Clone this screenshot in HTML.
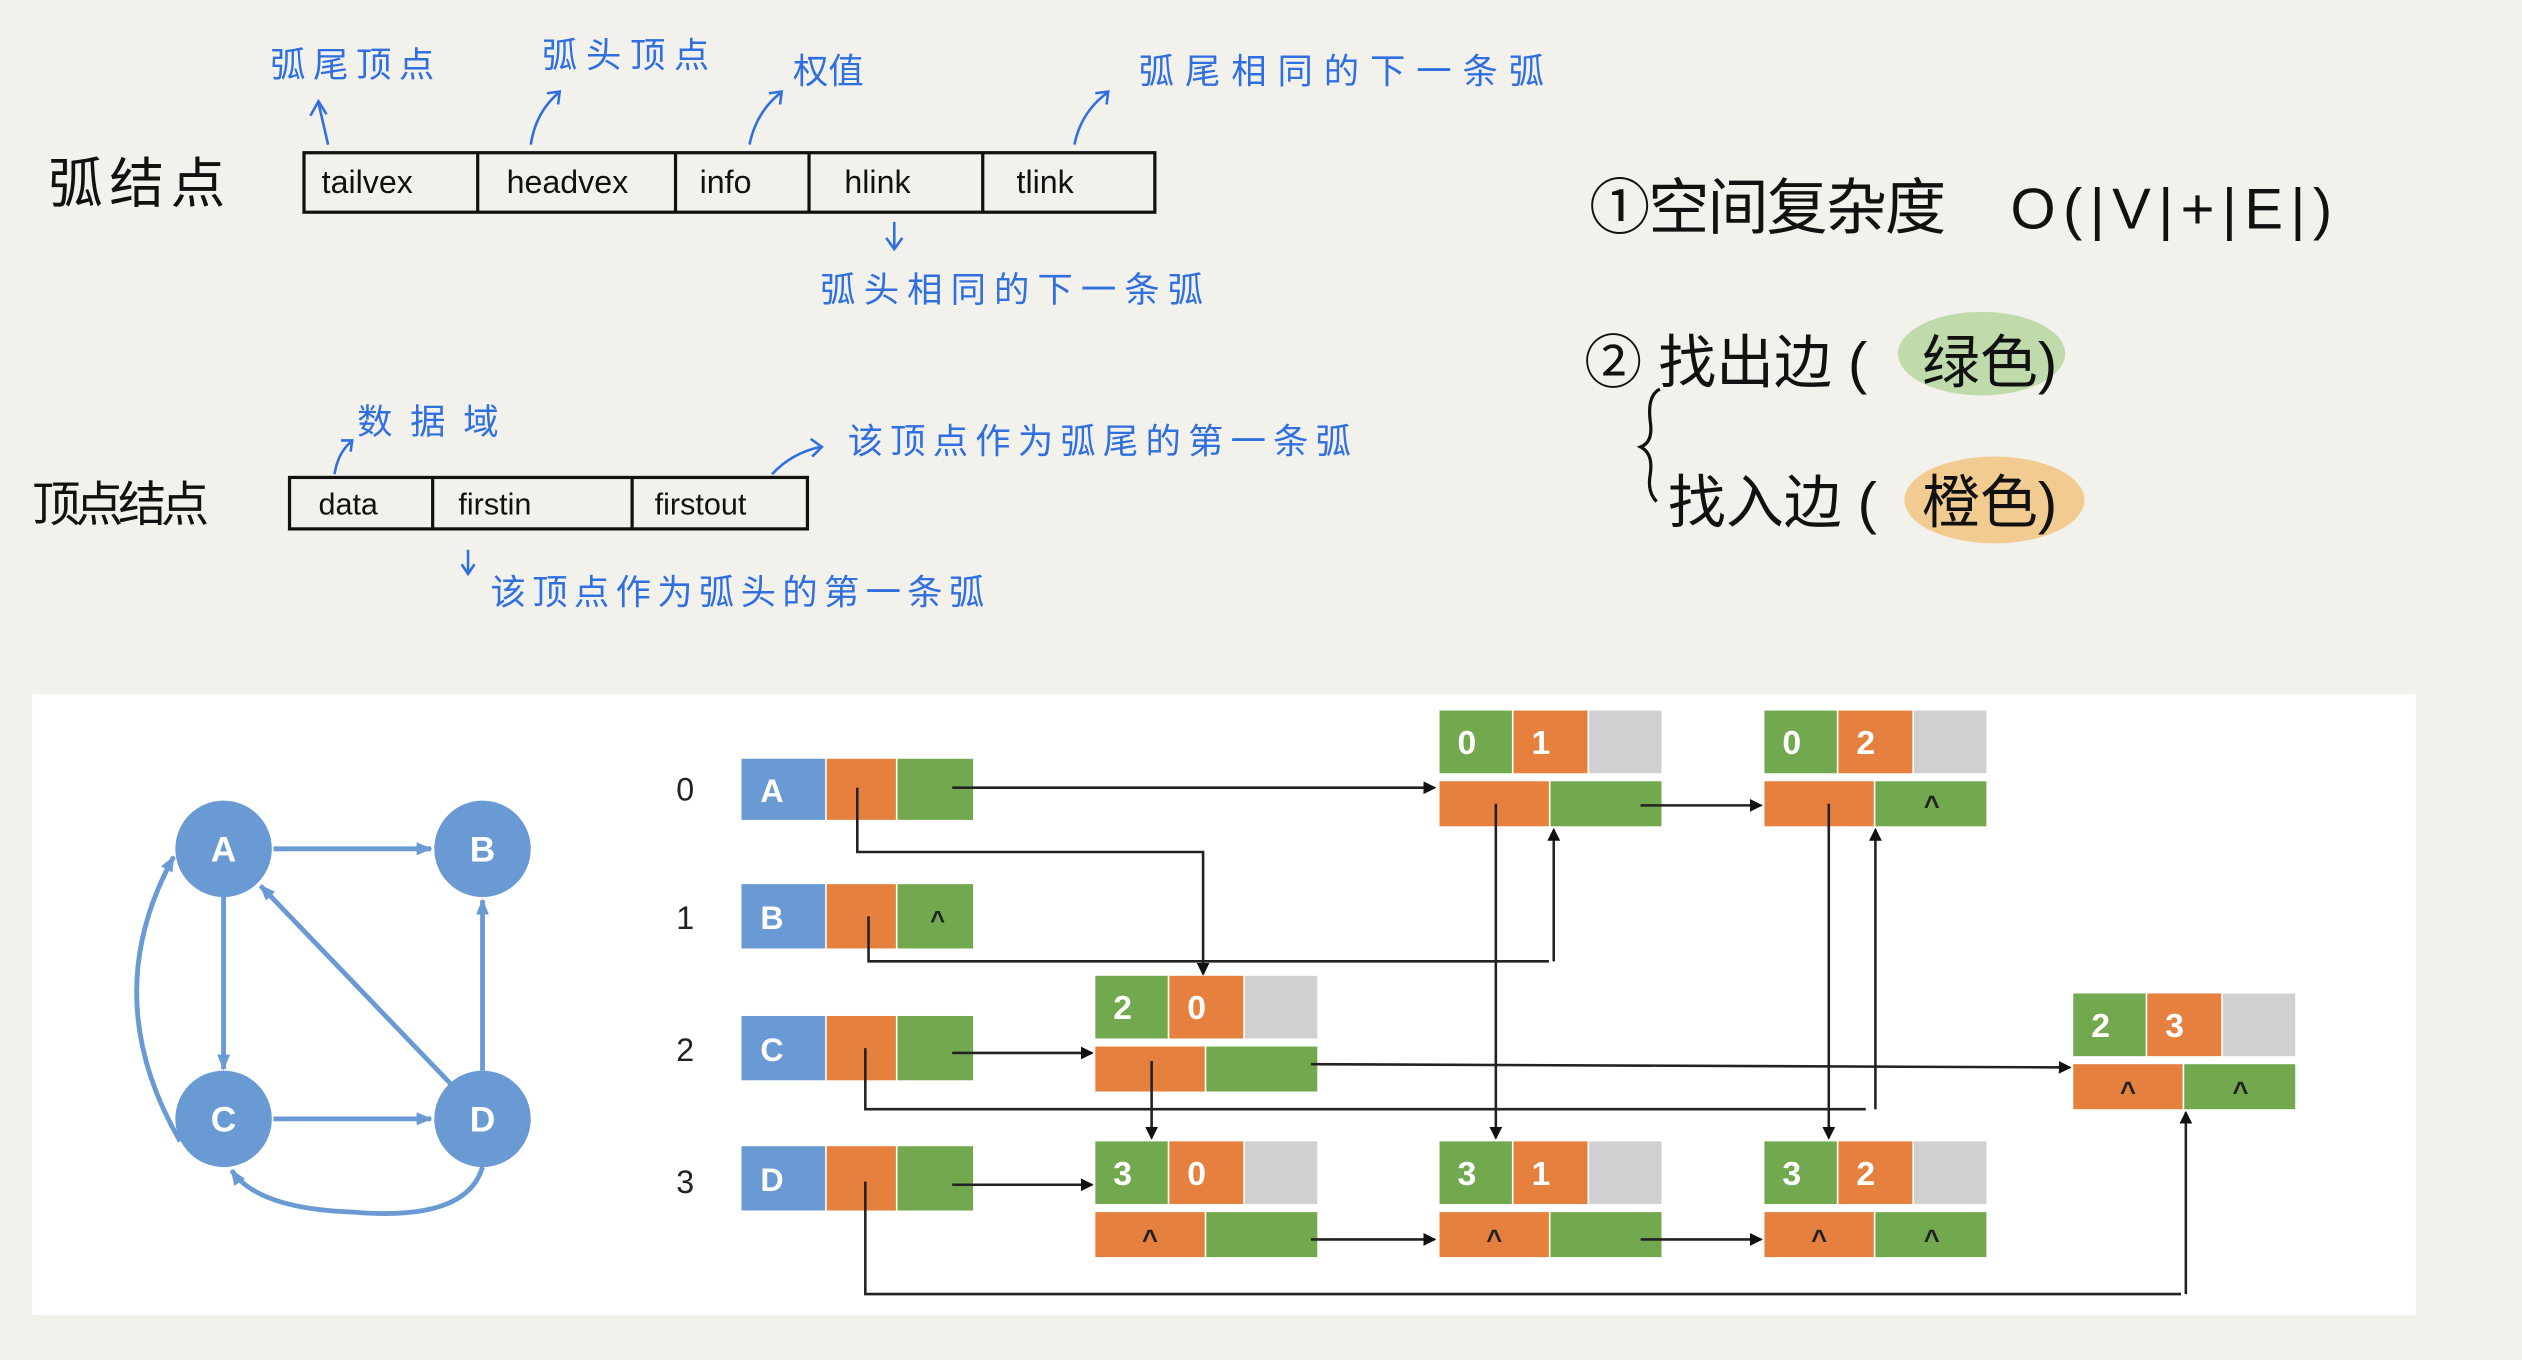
<!DOCTYPE html>
<html><head><meta charset="utf-8"><style>
html,body{margin:0;padding:0;background:#f3f1ec;}
svg{display:block;}
.hw{font-family:"Liberation Sans","Noto Sans CJK SC",sans-serif;}
.bl{fill:#2f6fe0;font-family:"Liberation Sans","Noto Sans CJK SC",sans-serif;}
.w{fill:#fff;font-family:"Liberation Sans",sans-serif;font-weight:bold;}
.k{fill:#222;font-family:"Liberation Sans",sans-serif;}
</style></head><body>
<svg width="2522" height="1360" viewBox="0 0 1568 846" preserveAspectRatio="none" xmlns="http://www.w3.org/2000/svg">
<defs>
<marker id="ah" markerWidth="8" markerHeight="8" refX="7" refY="4" orient="auto" markerUnits="userSpaceOnUse"><path d="M0,0 L8,4 L0,8 z" fill="#111"/></marker>
<marker id="bh" markerWidth="10" markerHeight="10" refX="9" refY="5" orient="auto" markerUnits="userSpaceOnUse"><path d="M0,1 L10,5 L0,9 z" fill="#6a9ad3"/></marker>
</defs>
<rect width="1568" height="846" fill="#f3f1ec"/>

<text x="30" y="126" class="hw" font-size="34" fill="#111" textLength="110">弧结点</text>
<rect x="189" y="95" width="529" height="37" fill="none" stroke="#111" stroke-width="2"/>
<g stroke="#111" stroke-width="2"><line x1="297" y1="95" x2="297" y2="132"/><line x1="420" y1="95" x2="420" y2="132"/><line x1="503" y1="95" x2="503" y2="132"/><line x1="611" y1="95" x2="611" y2="132"/></g>
<g class="hw" font-size="20" fill="#111">
<text x="200" y="120">tailvex</text><text x="315" y="120">headvex</text><text x="435" y="120">info</text><text x="525" y="120">hlink</text><text x="632" y="120">tlink</text></g>
<g class="bl" font-size="22">
<text x="168" y="48" textLength="102">弧尾顶点</text><text x="337" y="42" textLength="104">弧头顶点</text><text x="493" y="52">权值</text><text x="708" y="52" textLength="252">弧尾相同的下一条弧</text><text x="510" y="188" textLength="238">弧头相同的下一条弧</text>
<text x="222" y="270" textLength="88">数据域</text><text x="527" y="282" textLength="313">该顶点作为弧尾的第一条弧</text><text x="305" y="376" textLength="307">该顶点作为弧头的第一条弧</text></g>
<g stroke="#2f6fe0" stroke-width="1.6" fill="none">
<path d="M204,90 L198,64 M193,72 L198,63 L203,71"/>
<path d="M330,90 Q333,70 347,58 M340,58 L348,57 L347,65"/>
<path d="M466,90 Q470,70 485,58 M478,58 L486,57 L485,65"/>
<path d="M668,90 Q672,70 688,58 M681,58 L689,57 L688,65"/>
<path d="M556,138 L556,154 M551,148 L556,155 L561,148"/>
<path d="M208,295 Q210,282 218,275 M212,274 L219,274 L218,281"/>
<path d="M480,295 Q492,282 510,278 M504,273 L511,278 L505,284"/>
<path d="M291,342 L291,356 M287,351 L291,357 L295,351"/>
</g>

<text x="20" y="324" class="hw" font-size="30" fill="#111" textLength="110">顶点结点</text>
<rect x="180" y="297" width="322" height="32" fill="none" stroke="#111" stroke-width="2"/>
<g stroke="#111" stroke-width="2"><line x1="269" y1="297" x2="269" y2="329"/><line x1="393" y1="297" x2="393" y2="329"/></g>
<g class="hw" font-size="19" fill="#111"><text x="198" y="320">data</text><text x="285" y="320">firstin</text><text x="407" y="320">firstout</text></g>

<text x="988" y="142" class="hw" font-size="38" fill="#111" textLength="222">①空间复杂度</text>
<text x="1250" y="142" class="hw" font-size="36" fill="#111" textLength="200">O(|V|+|E|)</text>
<ellipse cx="1232" cy="220" rx="52" ry="26" fill="#b6d7a0" opacity="0.85"/>
<ellipse cx="1240" cy="311" rx="56" ry="27" fill="#f2c787" opacity="0.9"/>
<text x="985" y="238" class="hw" font-size="36" fill="#111">② 找出边 (</text>
<text x="1195" y="238" class="hw" font-size="36" fill="#111">绿色)</text>
<path d="M1032,242 Q1024,246 1026,262 Q1028,275 1020,278 Q1028,282 1026,295 Q1024,306 1030,312" fill="none" stroke="#111" stroke-width="2"/>
<text x="1037" y="325" class="hw" font-size="36" fill="#111">找入边 (</text>
<text x="1195" y="325" class="hw" font-size="36" fill="#111">橙色)</text>

<rect x="20" y="432" width="1482" height="386" fill="#fff"/>

<g stroke="#6a9ad3" stroke-width="3" fill="none">
<line x1="170" y1="528" x2="268" y2="528" marker-end="url(#bh)"/>
<line x1="139" y1="558" x2="139" y2="665" marker-end="url(#bh)"/>
<line x1="170" y1="696" x2="268" y2="696" marker-end="url(#bh)"/>
<line x1="300" y1="666" x2="300" y2="560" marker-end="url(#bh)"/>
<line x1="280" y1="674" x2="162" y2="551" marker-end="url(#bh)"/>
<path d="M112,710 Q60,620 108,533" marker-end="url(#bh)"/>
<path d="M300,726 Q290,760 220,754 Q160,752 144,728" marker-end="url(#bh)"/>
</g>
<g fill="#6a9ad3"><circle cx="139" cy="528" r="30"/><circle cx="300" cy="528" r="30"/><circle cx="139" cy="696" r="30"/><circle cx="300" cy="696" r="30"/></g>
<g class="w" font-size="22" font-weight="normal" text-anchor="middle"><text x="139" y="536">A</text><text x="300" y="536">B</text><text x="139" y="704">C</text><text x="300" y="704">D</text></g>

<g class="k" font-size="20" text-anchor="middle"><text x="426" y="498">0</text><text x="426" y="578">1</text><text x="426" y="660">2</text><text x="426" y="742">3</text></g>
<g>
<rect x="461" y="472" width="52" height="38" fill="#6a9ad3"/><rect x="514" y="472" width="43" height="38" fill="#e6803f"/><rect x="558" y="472" width="47" height="38" fill="#72a94f"/>
<rect x="461" y="550" width="52" height="40" fill="#6a9ad3"/><rect x="514" y="550" width="43" height="40" fill="#e6803f"/><rect x="558" y="550" width="47" height="40" fill="#72a94f"/>
<rect x="461" y="632" width="52" height="40" fill="#6a9ad3"/><rect x="514" y="632" width="43" height="40" fill="#e6803f"/><rect x="558" y="632" width="47" height="40" fill="#72a94f"/>
<rect x="461" y="713" width="52" height="40" fill="#6a9ad3"/><rect x="514" y="713" width="43" height="40" fill="#e6803f"/><rect x="558" y="713" width="47" height="40" fill="#72a94f"/>
</g>
<g class="w" font-size="20" font-weight="normal" text-anchor="middle"><text x="480" y="499">A</text><text x="480" y="578">B</text><text x="480" y="660">C</text><text x="480" y="741">D</text></g>
<text x="583" y="578" class="k" font-size="16" text-anchor="middle" font-weight="bold">^</text>

<g>
<g transform="translate(895,442)"><rect width="45" height="39" fill="#72a94f"/><rect x="46" width="46" height="39" fill="#e6803f"/><rect x="93" width="45" height="39" fill="#d0d0d0"/><rect y="44" width="68" height="28" fill="#e6803f"/><rect x="69" y="44" width="69" height="28" fill="#72a94f"/></g>
<g transform="translate(1097,442)"><rect width="45" height="39" fill="#72a94f"/><rect x="46" width="46" height="39" fill="#e6803f"/><rect x="93" width="45" height="39" fill="#d0d0d0"/><rect y="44" width="68" height="28" fill="#e6803f"/><rect x="69" y="44" width="69" height="28" fill="#72a94f"/></g>
<g transform="translate(681,607)"><rect width="45" height="39" fill="#72a94f"/><rect x="46" width="46" height="39" fill="#e6803f"/><rect x="93" width="45" height="39" fill="#d0d0d0"/><rect y="44" width="68" height="28" fill="#e6803f"/><rect x="69" y="44" width="69" height="28" fill="#72a94f"/></g>
<g transform="translate(1289,618)"><rect width="45" height="39" fill="#72a94f"/><rect x="46" width="46" height="39" fill="#e6803f"/><rect x="93" width="45" height="39" fill="#d0d0d0"/><rect y="44" width="68" height="28" fill="#e6803f"/><rect x="69" y="44" width="69" height="28" fill="#72a94f"/></g>
<g transform="translate(681,710)"><rect width="45" height="39" fill="#72a94f"/><rect x="46" width="46" height="39" fill="#e6803f"/><rect x="93" width="45" height="39" fill="#d0d0d0"/><rect y="44" width="68" height="28" fill="#e6803f"/><rect x="69" y="44" width="69" height="28" fill="#72a94f"/></g>
<g transform="translate(895,710)"><rect width="45" height="39" fill="#72a94f"/><rect x="46" width="46" height="39" fill="#e6803f"/><rect x="93" width="45" height="39" fill="#d0d0d0"/><rect y="44" width="68" height="28" fill="#e6803f"/><rect x="69" y="44" width="69" height="28" fill="#72a94f"/></g>
<g transform="translate(1097,710)"><rect width="45" height="39" fill="#72a94f"/><rect x="46" width="46" height="39" fill="#e6803f"/><rect x="93" width="45" height="39" fill="#d0d0d0"/><rect y="44" width="68" height="28" fill="#e6803f"/><rect x="69" y="44" width="69" height="28" fill="#72a94f"/></g>
</g>
<g class="w" font-size="21" text-anchor="middle">
<text x="912" y="469">0</text><text x="958" y="469">1</text>
<text x="1114" y="469">0</text><text x="1160" y="469">2</text>
<text x="698" y="634">2</text><text x="744" y="634">0</text>
<text x="1306" y="645">2</text><text x="1352" y="645">3</text>
<text x="698" y="737">3</text><text x="744" y="737">0</text>
<text x="912" y="737">3</text><text x="958" y="737">1</text>
<text x="1114" y="737">3</text><text x="1160" y="737">2</text>
</g>
<g class="k" font-size="17" font-weight="bold" text-anchor="middle">
<text x="1201" y="507">^</text>
<text x="1323" y="685">^</text><text x="1393" y="685">^</text>
<text x="715" y="777">^</text><text x="929" y="777">^</text><text x="1131" y="777">^</text><text x="1201" y="777">^</text>
</g>

<g stroke="#222" stroke-width="1.6" fill="none">
<line x1="592" y1="490" x2="892" y2="490" marker-end="url(#ah)"/>
<polyline points="533,490 533,530 748,530 748,606" marker-end="url(#ah)"/>
<polyline points="540,570 540,598 963,598"/>
<line x1="966" y1="598" x2="966" y2="516" marker-end="url(#ah)"/>
<line x1="1020" y1="501" x2="1095" y2="501" marker-end="url(#ah)"/>
<line x1="930" y1="500" x2="930" y2="708" marker-end="url(#ah)"/>
<line x1="1137" y1="500" x2="1137" y2="708" marker-end="url(#ah)"/>
<line x1="592" y1="655" x2="679" y2="655" marker-end="url(#ah)"/>
<line x1="815" y1="662" x2="1287" y2="664" marker-end="url(#ah)"/>
<polyline points="538,652 538,690 1160,690"/>
<line x1="1166" y1="690" x2="1166" y2="516" marker-end="url(#ah)"/>
<line x1="716" y1="660" x2="716" y2="708" marker-end="url(#ah)"/>
<line x1="592" y1="737" x2="679" y2="737" marker-end="url(#ah)"/>
<line x1="815" y1="771" x2="892" y2="771" marker-end="url(#ah)"/>
<line x1="1020" y1="771" x2="1095" y2="771" marker-end="url(#ah)"/>
<polyline points="538,735 538,805 1356,805"/>
<line x1="1359" y1="805" x2="1359" y2="692" marker-end="url(#ah)"/>
</g>
</svg>
</body></html>
